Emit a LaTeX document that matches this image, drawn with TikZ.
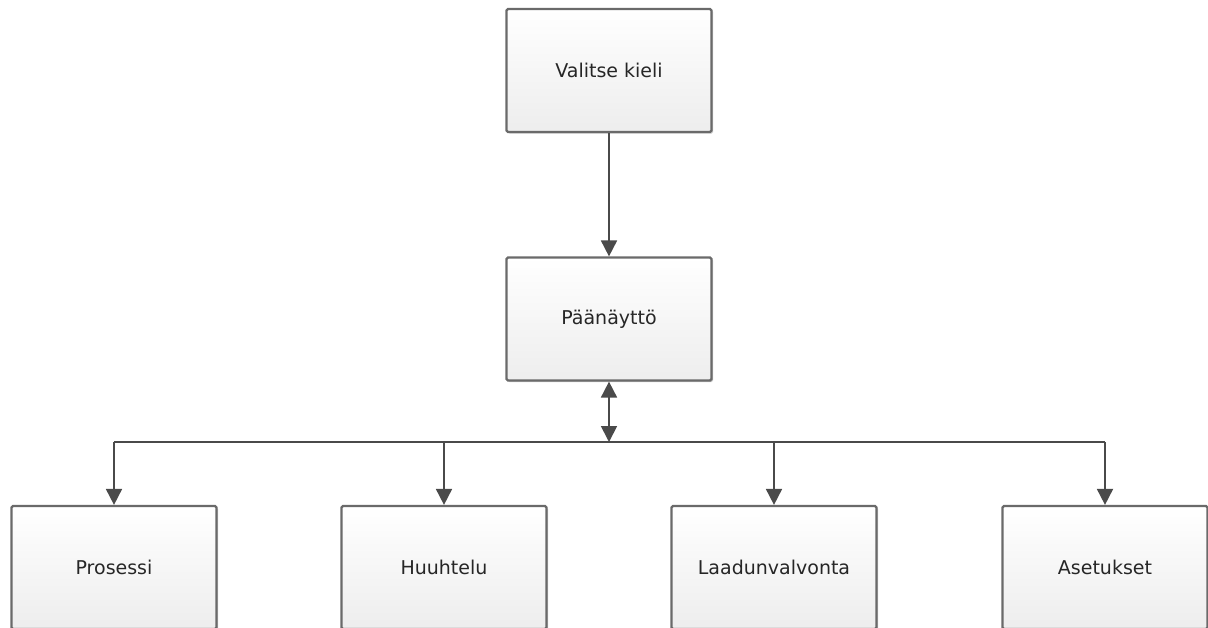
\documentclass[tikz,border=0pt]{standalone}
\usepackage{fontspec}
\setmainfont{DejaVu Sans}
\usetikzlibrary{arrows.meta,shadows}
\definecolor{boxline}{HTML}{6A6A6A}
\definecolor{arrowline}{HTML}{4A4A4A}
\begin{document}
\begin{tikzpicture}[x=1pt,y=-1pt,
  box/.style={draw=boxline,line width=2.2pt,rounded corners=1.5pt,
    top color=white,bottom color=black!7,
    minimum width=205pt,minimum height=123pt,inner sep=0pt,
    font=\fontsize{19}{22}\selectfont,text=black!85,
    drop shadow={shadow xshift=1.5pt,shadow yshift=-1.5pt,opacity=0.35,fill=black!60}},
  conn/.style={draw=arrowline,line width=1.8pt},
  tip/.style={-{Triangle[length=16pt,width=16pt]}},
  bitip/.style={{Triangle[length=16pt,width=16pt]}-{Triangle[length=16pt,width=16pt]}}]
\useasboundingbox (0,0) rectangle (1208,627);
\node[box] (kieli) at (609,70.5) {Valitse kieli};
\node[box] (paa) at (609,319) {Päänäyttö};
\node[box] (pros) at (114,567.5) {Prosessi};
\node[box] (huuh) at (444,567.5) {Huuhtelu};
\node[box] (laad) at (774,567.5) {Laadunvalvonta};
\node[box] (aset) at (1105,567.5) {Asetukset};
\coordinate (bus) at (609,442);
\draw[conn,tip] (kieli) -- (paa);
\draw[conn,bitip] (paa) -- (bus);
\draw[conn] (pros.north |- bus) -- (aset.north |- bus);
\foreach \n in {pros,huuh,laad,aset}
  \draw[conn,tip] (\n.north |- bus) -- (\n);
\end{tikzpicture}
\end{document}
